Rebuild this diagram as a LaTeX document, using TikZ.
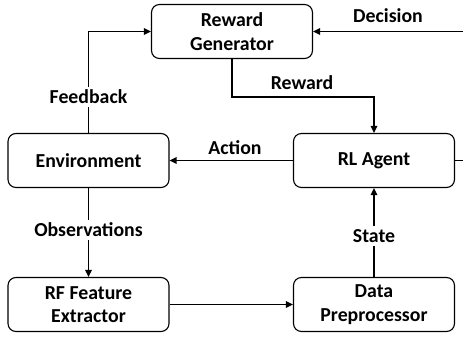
\documentclass[tikz,border=0pt]{standalone}
\usepackage{fontspec}
\setmainfont{Carlito}
\usetikzlibrary{arrows.meta}
\begin{document}
\begin{tikzpicture}[x=1pt,y=-1pt,
 box/.style={draw, rounded corners=8pt, line width=1.1pt, minimum width=161pt, minimum height=54pt, align=center, font=\bfseries\fontsize{19.8}{23.5}\selectfont, inner sep=0pt},
 lbl/.style={font=\bfseries\fontsize{19.8}{23}\selectfont, inner sep=2pt},
 wlbl/.style={lbl, fill=white, inner sep=3pt},
 conn/.style={line width=1.6pt, -{Triangle[length=7pt,width=6.5pt]}},
 plain/.style={line width=1.6pt}]
\useasboundingbox (0,0) rectangle (463,337);
\node[box] (rg) at (232,31.5) {Reward\\Generator};
\node[box] (env) at (88.5,160.5) {Environment};
\node[box] (rl) at (374,160.5) {RL Agent};
\node[box] (rf) at (88.5,304.5) {RF Feature\\Extractor};
\node[box] (dp) at (374,304.5) {Data\\Preprocessor};
\coordinate (dec) at (463,31.5);
\coordinate (out) at (463,160.5);
% Decision
\draw[conn] (dec) -- (rg.east);
\node[lbl] (ldec) at (388,16) {Decision};
% Feedback
\draw[conn] (env.north) |- (rg.west);
\node[wlbl] (lfb) at (88.5,97) {Feedback};
% Reward
\draw[conn] (rg.south) -- ++(0,38) -| (rl.north);
\node[lbl] (lrw) at (302,83) {Reward};
% Action
\draw[conn] (rl.west) -- (env.east);
\node[lbl] (lact) at (235,148) {Action};
% RL stub
\draw[plain] (rl.east) -- (out);
% Observations
\draw[conn] (env.south) -- (rf.north);
\node[wlbl] (lobs) at (88.5,230) {Observations};
% RF -> DP
\draw[conn] (rf.east) -- (dp.west);
% State
\draw[conn] (dp.north) -- (rl.south);
\node[wlbl] (lst) at (374,236) {State};
\end{tikzpicture}
\end{document}
